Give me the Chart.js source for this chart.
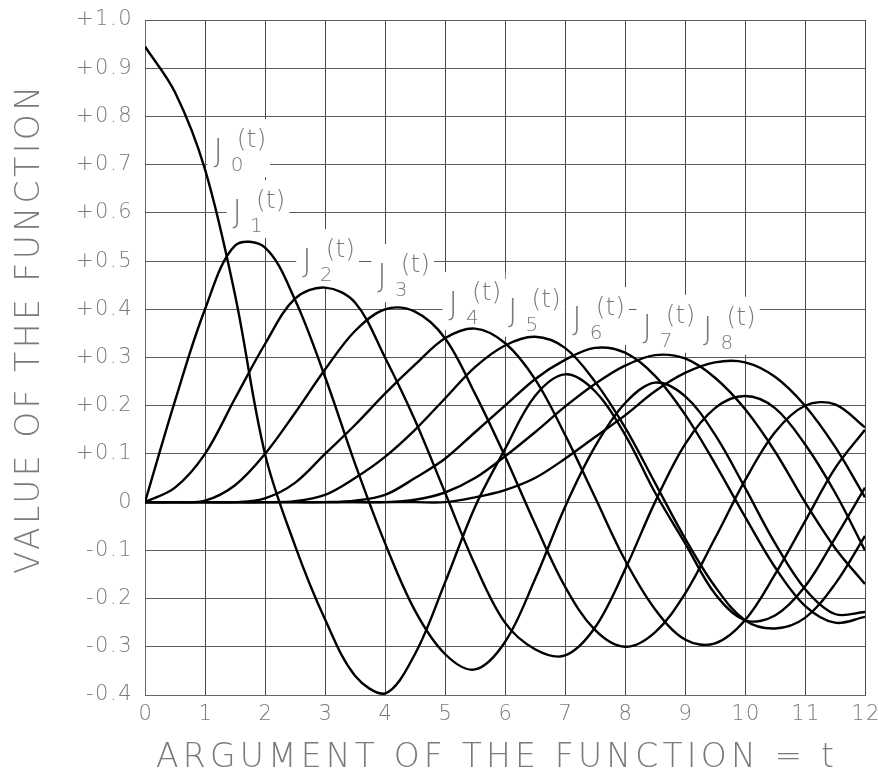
<!DOCTYPE html>
<html lang="en">
<head>
    <meta charset="UTF-8">
    <title>Bessel functions J0..J8</title>
    <script src="https://cdn.jsdelivr.net/npm/chart.js"></script>
    <style>
        body { margin: 0; background: #fff; }
    </style>
</head>
<body>
    <canvas id="myChart" width="878" height="778"></canvas>

    <script>
        // argument values along the x axis
        const tValues = [0, 0.5, 1, 1.5, 2, 2.5, 3, 3.5, 4, 4.5, 5, 5.5, 6, 6.5, 7, 7.5, 8, 8.5, 9, 9.5, 10, 10.5, 11, 11.5, 12];

        // values, one array per curve
        const j0 = [0.945, 0.85, 0.69, 0.43, 0.10, -0.09, -0.243, -0.36, -0.397, -0.315, -0.167, -0.01, 0.11, 0.22, 0.265, 0.23, 0.14, 0.02, -0.085, -0.19, -0.245, -0.235, -0.175, -0.075, 0.03];
        const j1 = [0, 0.21, 0.40, 0.532, 0.528, 0.42, 0.26, 0.08, -0.085, -0.225, -0.315, -0.347, -0.29, -0.16, -0.01, 0.115, 0.205, 0.248, 0.22, 0.14, 0.03, -0.085, -0.18, -0.232, -0.228];
        const j2 = [0, 0.03, 0.10, 0.215, 0.328, 0.422, 0.445, 0.414, 0.30, 0.17, 0.02, -0.13, -0.25, -0.305, -0.318, -0.26, -0.14, 0.0, 0.12, 0.195, 0.22, 0.195, 0.12, 0.02, -0.10];
        const j3 = [0, 0, 0.003, 0.035, 0.10, 0.185, 0.275, 0.355, 0.40, 0.395, 0.34, 0.225, 0.095, -0.045, -0.175, -0.265, -0.30, -0.27, -0.19, -0.075, 0.045, 0.145, 0.20, 0.203, 0.155];
        const j4 = [0, 0, 0, 0, 0.008, 0.04, 0.10, 0.16, 0.225, 0.285, 0.34, 0.36, 0.33, 0.255, 0.14, 0.01, -0.12, -0.222, -0.285, -0.293, -0.245, -0.15, -0.04, 0.07, 0.15];
        const j5 = [0, 0, 0, 0, 0, 0.002, 0.015, 0.05, 0.094, 0.15, 0.215, 0.28, 0.325, 0.343, 0.32, 0.25, 0.155, 0.04, -0.075, -0.175, -0.245, -0.262, -0.24, -0.17, -0.07];
        const j6 = [0, 0, 0, 0, 0, 0, 0, 0.003, 0.015, 0.05, 0.09, 0.145, 0.20, 0.255, 0.295, 0.32, 0.31, 0.262, 0.182, 0.08, -0.03, -0.135, -0.215, -0.25, -0.238];
        const j7 = [0, 0, 0, 0, 0, 0, 0, 0, 0, 0.005, 0.02, 0.05, 0.095, 0.145, 0.198, 0.245, 0.283, 0.305, 0.298, 0.258, 0.193, 0.105, 0.0, -0.095, -0.17];
        const j8 = [0, 0, 0, 0, 0, 0, 0, 0, 0, 0, 0, 0.01, 0.025, 0.05, 0.09, 0.135, 0.18, 0.23, 0.268, 0.29, 0.29, 0.26, 0.20, 0.115, 0.01];

        const series = [j0, j1, j2, j3, j4, j5, j6, j7, j8];

        // tick labels
        const xTickLabels = ["0", "1", "2", "3", "4", "5", "6", "7", "8", "9", "10", "11", "12"];
        const yTickValues = [1.0, 0.9, 0.8, 0.7, 0.6, 0.5, 0.4, 0.3, 0.2, 0.1, 0, -0.1, -0.2, -0.3, -0.4];
        const yTickLabels = ["+1.0", "+0.9", "+0.8", "+0.7", "+0.6", "+0.5", "+0.4", "+0.3", "+0.2", "+0.1", "0", "-0.1", "-0.2", "-0.3", "-0.4"];

        // curve labels J_n(t): where the letter J sits, in data units
        const curveLabelT = [1.14, 1.46, 2.62, 3.87, 5.06, 6.05, 7.12, 8.29, 9.30];
        const curveLabelV = [0.707, 0.581, 0.479, 0.448, 0.39, 0.376, 0.359, 0.343, 0.339];

        const textColor = "#7a7a7a";
        const thinFont = '"DejaVu Sans", sans-serif';

        // write a line of text stretched to a given width
        function spreadText(ctx, text, cx, cy, width) {
            ctx.letterSpacing = "0px";
            const w = ctx.measureText(text).width;
            const gap = (width - w) / (text.length - 1);
            ctx.letterSpacing = gap + "px";
            ctx.textAlign = "left";
            ctx.fillText(text, cx - width / 2, cy);
        }

        // draws the texts in the plotter look of the original
        const textPlugin = {
            id: "plotterText",
            beforeDatasetsDraw(chart) {
                const ctx = chart.ctx;
                const xs = chart.scales.x;
                const ys = chart.scales.y;
                ctx.save();
                ctx.textBaseline = "alphabetic";
                ctx.textAlign = "left";
                for (let i = 0; i < curveLabelT.length; i++) {
                    const x = xs.getPixelForValue(curveLabelT[i]);
                    const y = ys.getPixelForValue(curveLabelV[i]);
                    ctx.font = "200 32px " + thinFont;
                    const wJ = ctx.measureText("J").width;
                    ctx.font = "200 25px " + thinFont;
                    const wT = ctx.measureText("(t)").width;
                    // white box so the grid stops around the label
                    ctx.fillStyle = "#fff";
                    ctx.fillRect(x - 6, y - 42, wJ + wT + 24, 58);
                    ctx.fillStyle = textColor;
                    ctx.font = "200 32px " + thinFont;
                    ctx.fillText("J", x, y);
                    ctx.font = "200 20px " + thinFont;
                    ctx.fillText(String(i), x + wJ + 8, y + 10);
                    ctx.font = "200 25px " + thinFont;
                    ctx.fillText("(t)", x + wJ + 14, y - 14);
                }
                ctx.restore();
            },
            afterDraw(chart) {
                const ctx = chart.ctx;
                const xs = chart.scales.x;
                const ys = chart.scales.y;
                const area = chart.chartArea;
                ctx.save();
                ctx.fillStyle = textColor;

                // y tick labels
                ctx.letterSpacing = "1.5px";
                ctx.font = "200 21px " + thinFont;
                ctx.textAlign = "right";
                ctx.textBaseline = "middle";
                yTickValues.forEach((v, i) => {
                    ctx.fillText(yTickLabels[i], area.left - 12, ys.getPixelForValue(v));
                });

                // x tick labels
                ctx.textAlign = "center";
                xTickLabels.forEach((lab, i) => {
                    ctx.fillText(lab, xs.getPixelForValue(i) + 1, area.bottom + 20);
                });

                // axis titles
                ctx.font = "200 33px " + thinFont;
                spreadText(ctx, "ARGUMENT OF THE FUNCTION = t", 495, area.bottom + 63, 678);

                ctx.translate(30, 330);
                ctx.rotate(-Math.PI / 2);
                spreadText(ctx, "VALUE OF THE FUNCTION", 0, 0, 488);
                ctx.restore();
            }
        };

        const datasets = series.map((vals, n) => ({
            label: "J" + n + "(t)",
            data: tValues.map((t, k) => ({ x: t, y: vals[k] })),
            borderColor: "#000",
            borderWidth: 2.4,
            pointRadius: 0,
            fill: false,
            tension: 0.35
        }));

        const chart = new Chart(document.getElementById("myChart"), {
            type: "line",
            data: { datasets: datasets },
            plugins: [textPlugin],
            options: {
                responsive: false,
                animation: false,
                events: [],
                layout: { padding: { left: 145, top: 20, right: 13, bottom: 83 } },
                plugins: {
                    legend: { display: false },
                    tooltip: { enabled: false },
                    title: { display: false }
                },
                scales: {
                    x: {
                        type: "linear",
                        min: 0,
                        max: 12,
                        ticks: { display: false, stepSize: 1 },
                        grid: { color: "#4a4a4a", lineWidth: 1, drawTicks: false },
                        border: { color: "#666", width: 1 }
                    },
                    y: {
                        min: -0.4,
                        max: 1.0,
                        ticks: { display: false, stepSize: 0.1 },
                        grid: { color: "#5a5a5a", lineWidth: 1, drawTicks: false },
                        border: { color: "#666", width: 1 }
                    }
                }
            }
        });
    </script>
</body>
</html>
